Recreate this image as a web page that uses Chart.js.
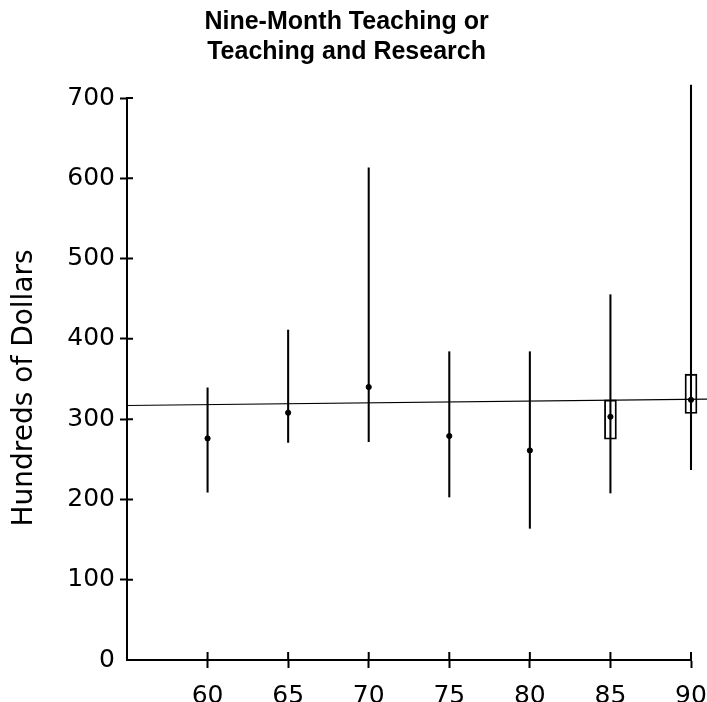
<!DOCTYPE html>
<html>
<head>
<meta charset="utf-8">
<script src="https://cdn.jsdelivr.net/npm/chart.js@4.4.0/dist/chart.umd.min.js"></script>
<style>
  html, body { margin: 0; padding: 0; background: #fff; }
  #wrap { width: 707px; height: 702px; }
</style>
</head>
<body>
<div id="wrap"><canvas id="chart"></canvas></div>
<script>
// values (hundreds of dollars)
const years = [60, 65, 70, 75, 80, 85, 90];
const means = [276, 308, 340, 279, 261, 303, 324];
const lows = [209, 271, 272, 203, 164, 208, 237];
const highs = [339, 411, 613, 384, 384, 455, 716];
const boxYears = [85, 90];
const boxLows = [275, 307];
const boxHighs = [324, 356];
const fitX = [55, 91];
const fitY = [317, 325];
const xTicks = [60, 65, 70, 75, 80, 85, 90];
const yTicks = [0, 100, 200, 300, 400, 500, 600, 700];

const tickFont = { family: "'DejaVu Sans', sans-serif", size: 25 };

// the original draws tick marks through the axis, so add the inner half
const crossTicks = {
    id: 'crossTicks',
    afterDraw(chart) {
        const { ctx, scales: { x, y } } = chart;
        ctx.save();
        ctx.strokeStyle = '#000';
        ctx.lineWidth = 2;
        ctx.beginPath();
        xTicks.forEach(v => {
            const px = x.getPixelForValue(v);
            ctx.moveTo(px, x.top);
            ctx.lineTo(px, x.top - 8);
        });
        yTicks.filter(v => v > 0).forEach(v => {
            const py = y.getPixelForValue(v);
            ctx.moveTo(y.right, py);
            ctx.lineTo(y.right + 6, py);
        });
        ctx.stroke();
        ctx.restore();
    }
};

new Chart(document.getElementById('chart'), {
    data: {
        datasets: [
            {
                type: 'scatter',
                data: years.map((x, i) => ({ x, y: means[i] })),
                pointRadius: 2.6,
                pointBackgroundColor: '#000',
                pointBorderColor: '#000',
                pointBorderWidth: 1,
                clip: false,
            },
            {
                type: 'line',
                data: fitX.map((x, i) => ({ x, y: fitY[i] })),
                borderColor: '#000',
                borderWidth: 1.2,
                pointRadius: 0,
                clip: false,
            },
            {
                type: 'bar',
                data: boxYears.map((x, i) => ({ x, y: [boxLows[i], boxHighs[i]] })),
                backgroundColor: 'rgba(0,0,0,0)',
                borderColor: '#000',
                borderWidth: 1.2,
                borderSkipped: false,
                barThickness: 12,
                grouped: false,
                clip: false,
            },
            {
                type: 'bar',
                data: years.map((x, i) => ({ x, y: [lows[i], highs[i]] })),
                backgroundColor: '#000',
                borderWidth: 0,
                barThickness: 1.4,
                grouped: false,
                clip: false,
            },
        ]
    },
    plugins: [crossTicks],
    options: {
        responsive: true,
        maintainAspectRatio: false,
        animation: false,
        layout: { padding: 0 },
        plugins: {
            legend: { display: false },
            tooltip: { enabled: false },
            title: {
                display: true,
                // trailing spaces nudge the centred block a little left, as in the scan
                text: ['Nine-Month Teaching or  ', 'Teaching and Research  '],
                color: '#000',
                font: { family: "'Liberation Sans', Arial, sans-serif", size: 25, weight: 'bold', lineHeight: 1.2 },
                padding: { top: 7, bottom: 31 }
            }
        },
        scales: {
            x: {
                type: 'linear',
                min: 55,
                max: 90,
                offset: false,
                afterBuildTicks: s => { s.ticks = xTicks.map(v => ({ value: v })); },
                afterFit: s => { s.height = 42; s.paddingLeft = 0; s.paddingRight = 16; },
                ticks: { color: '#000', font: tickFont, padding: 13, maxRotation: 0, autoSkip: false },
                grid: { offset: false, drawOnChartArea: false, tickLength: 8, tickWidth: 2, tickColor: '#000' },
                border: { display: true, color: '#000', width: 2 }
            },
            y: {
                min: 0,
                max: 700,
                afterBuildTicks: s => { s.ticks = yTicks.map(v => ({ value: v })); },
                afterFit: s => { s.width = 127; },
                ticks: { color: '#000', font: tickFont, padding: 5 },
                grid: {
                    drawOnChartArea: false,
                    tickLength: 7,
                    tickWidth: 2,
                    tickColor: c => c.tick && c.tick.value === 0 ? 'rgba(0,0,0,0)' : '#000'
                },
                border: { display: true, color: '#000', width: 2 },
                title: {
                    display: true,
                    text: 'Hundreds of Dollars  ',
                    color: '#000',
                    font: { family: "'DejaVu Sans', sans-serif", size: 28 },
                    padding: { top: 8, bottom: 0 }
                }
            }
        }
    }
});
</script>
</body>
</html>
